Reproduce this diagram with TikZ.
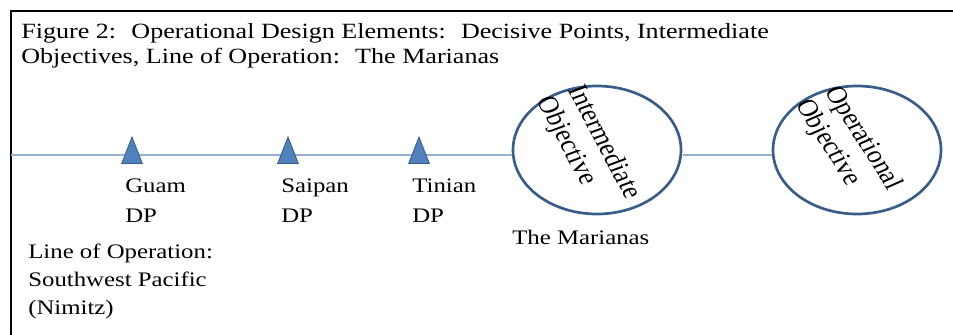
\documentclass[tikz,border=0pt]{standalone}
\usepackage{fontspec}
\setmainfont{Liberation Serif}
\usetikzlibrary{shapes.geometric}
\definecolor{dpfill}{RGB}{79,129,189}
\definecolor{dpline}{RGB}{56,93,138}
\definecolor{lopline}{RGB}{149,176,212}
\tikzset{
  dp/.style={isosceles triangle, shape border rotate=90, isosceles triangle stretches,
    minimum width=13pt, minimum height=20pt, inner sep=0pt, anchor=south,
    fill=dpfill, draw=dpline, line width=0.6pt},
  objective/.style={ellipse, minimum width=105pt, minimum height=96pt, inner sep=0pt,
    draw=dpline, line width=2pt},
  lab/.style={anchor=north west, align=left, inner sep=0pt, font=\fontsize{15.5}{22.5}\selectfont},
  objlab/.style={align=left, inner sep=0pt, font=\fontsize{18}{21}\selectfont},
}

\begin{document}
\begin{tikzpicture}[x=0.625pt, y=-0.75pt, xscale=1.2, transform shape]
\useasboundingbox (0,0) rectangle (953,335);
\draw[black, line width=2pt](953,11)--(11,11)--(11,335);
\node[lab, font=\fontsize{16.3}{18.75}\selectfont] (title) at (21,23)
  {Figure 2:~ Operational Design Elements:~ Decisive Points, Intermediate\\Objectives, Line of Operation:~ The Marianas};
%------------------
\coordinate (start) at (11,155);
\node[objective] (inter) at (597,150) {};
\node[objective] (oper) at (857,150) {};
\draw[lopline, line width=1.3pt](start)--(start -| inter.west);
\draw[lopline, line width=1.3pt](start -| inter.east)--(start -| oper.west);
\node[objlab, rotate=-66] (intertext) at (588,148) {Intermediate\\Objective};
\node[objlab, rotate=-62] (opertext) at (848,145) {Operational\\Objective};
\node[lab] (marianas) at (512,230) {The Marianas};
%------------------
\foreach \name/\xpos in {Guam/132, Saipan/288, Tinian/419}{
  \node[dp] (\name) at (\xpos,164) {};
  \node[lab] (\name-lab) at (\xpos-7,179) {\name\\DP};
}
\node[lab, font=\fontsize{15.5}{21}\selectfont] (lineop) at (28,244)
  {Line of Operation:\\Southwest Pacific\\(Nimitz)};
\end{tikzpicture}
\end{document}
